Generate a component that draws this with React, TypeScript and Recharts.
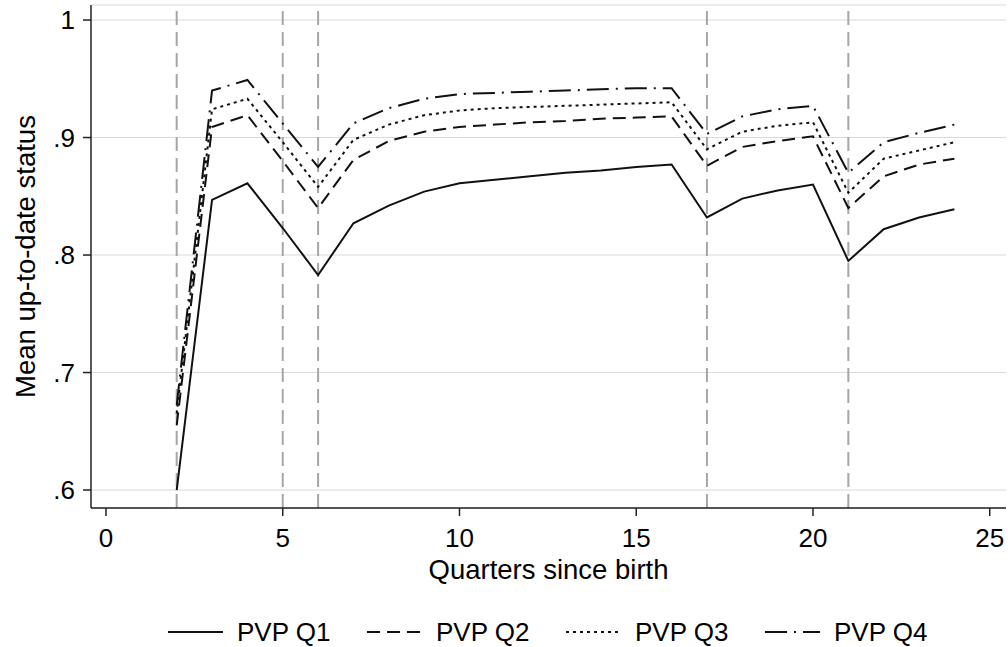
import React from 'react';
import { LineChart, Line, XAxis, YAxis, CartesianGrid, ReferenceLine } from 'recharts';

const quarters = [2, 3, 4, 5, 6, 7, 8, 9, 10, 11, 12, 13, 14, 15, 16, 17, 18, 19, 20, 21, 22, 23, 24];
const pvpQ1 = [.600, .847, .861, .823, .783, .827, .842, .854, .861, .864, .867, .870, .872, .875, .877, .832, .848, .855, .860, .795, .822, .832, .839];
const pvpQ2 = [.655, .909, .919, .880, .840, .881, .897, .905, .909, .911, .913, .914, .916, .917, .918, .876, .892, .897, .901, .840, .867, .877, .882];
const pvpQ3 = [.665, .924, .933, .896, .858, .898, .911, .919, .923, .925, .926, .927, .928, .929, .930, .890, .905, .910, .913, .853, .882, .889, .896];
const pvpQ4 = [.672, .940, .949, .912, .875, .912, .925, .933, .937, .938, .939, .940, .941, .942, .942, .903, .918, .924, .927, .870, .896, .904, .911];

const xTicks = [0, 5, 10, 15, 20, 25];
const yTicks = [0.6, 0.7, 0.8, 0.9, 1];
const markerQuarters = [2, 5, 6, 17, 21];

const data = quarters.map((q, i) => ({ q, q1: pvpQ1[i], q2: pvpQ2[i], q3: pvpQ3[i], q4: pvpQ4[i] }));

const FONT = '"Liberation Sans", Arial, Helvetica, sans-serif';

const seriesDefs = [
  { key: 'q1', name: 'PVP Q1', dash: undefined },
  { key: 'q2', name: 'PVP Q2', dash: '13 7' },
  { key: 'q3', name: 'PVP Q3', dash: '3 4' },
  { key: 'q4', name: 'PVP Q4', dash: '22 7 2 7' },
];

const fmtY = (v: number) => (v === 1 ? '1' : String(v).replace(/^0/, ''));

function YTitle(props: any) {
  const vb = props.viewBox || { x: 0, y: 0, height: 0 };
  const cx = vb.x + 25;
  const cy = vb.y + vb.height / 2;
  return (
    <text x={cx} y={cy} transform={`rotate(-90 ${cx} ${cy})`} textAnchor="middle"
      dominantBaseline="central" fontSize={27.5} fontFamily={FONT} fill="#000">
      Mean up-to-date status
    </text>
  );
}

export default function App() {
  return (
    <div style={{ position: 'relative', width: 1008, height: 647, background: '#fff', fontFamily: FONT }}>
      <style>{`body{margin:0}`}</style>
      <LineChart width={1008} height={647} data={data} margin={{ top: 5, right: 2, left: 0, bottom: 88 }}>
        <CartesianGrid vertical={false} stroke="#d9d9d9" strokeWidth={1} />
        <XAxis
          type="number"
          dataKey="q"
          domain={[-0.424, 25.46]}
          allowDataOverflow
          ticks={xTicks}
          height={51}
          tickSize={8}
          tickMargin={13}
          stroke="#222"
          strokeWidth={1.5}
          tick={{ fontSize: 26, fill: '#000', fontFamily: FONT }}
          label={{ value: 'Quarters since birth', position: 'bottom', offset: 0, fontSize: 27.5, fill: '#000', fontFamily: FONT }}
        />
        <YAxis
          type="number"
          domain={[0.5847, 1.0128]}
          allowDataOverflow
          ticks={yTicks}
          width={91}
          tickSize={8}
          tickMargin={8}
          tickFormatter={fmtY}
          stroke="#222"
          strokeWidth={1.5}
          tick={{ fontSize: 26, fill: '#000', fontFamily: FONT }}
          label={{ content: <YTitle /> }}
        />
        {markerQuarters.map(m => (
          <ReferenceLine key={m} x={m} stroke="#a6a6a6" strokeWidth={2} strokeDasharray="14 7" />
        ))}
        {seriesDefs.map(s => (
          <Line
            key={s.key}
            type="linear"
            dataKey={s.key}
            name={s.name}
            stroke="#111"
            strokeWidth={2}
            strokeDasharray={s.dash}
            dot={false}
            activeDot={false}
            isAnimationActive={false}
          />
        ))}
      </LineChart>
      {/* legend row */}
      <div style={{ position: 'absolute', left: 168, top: 617, display: 'flex', alignItems: 'center' }}>
        {seriesDefs.map(s => (
          <div key={s.key} style={{ width: 199, display: 'flex', alignItems: 'center' }}>
            <svg width={55} height={30}>
              <line x1={0} y1={15} x2={55} y2={15} stroke="#111" strokeWidth={2} strokeDasharray={s.dash} />
            </svg>
            <span style={{ marginLeft: 14, fontSize: 26, color: '#000', lineHeight: '30px' }}>{s.name}</span>
          </div>
        ))}
      </div>
    </div>
  );
}
